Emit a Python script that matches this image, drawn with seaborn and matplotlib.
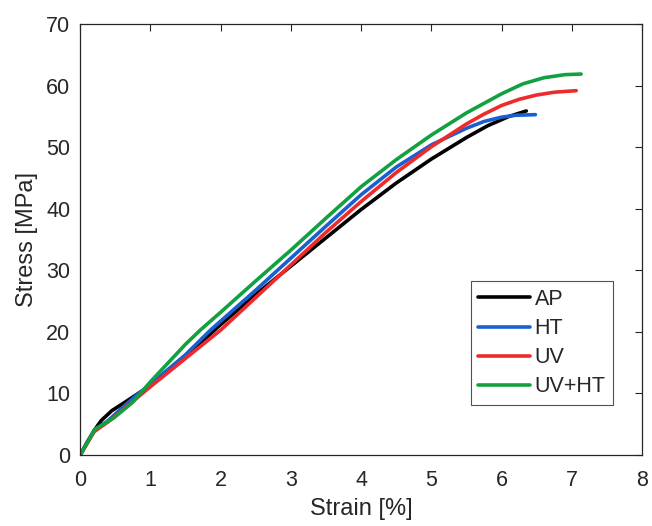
import seaborn as sns
import pandas as pd
import numpy as np
import matplotlib
matplotlib.use("Agg")
import matplotlib.pyplot as plt

# data
ap_strain = [0, 0.1, 0.2, 0.3, 0.45, 0.6, 0.8, 1.0, 1.5, 2.0, 2.5, 3.0, 3.5, 4.0, 4.5, 5.0, 5.5, 5.8, 6.1, 6.35]
ap_stress = [0, 2.1, 4.0, 5.6, 7.2, 8.3, 9.8, 11.3, 16.0, 21.2, 26.1, 30.7, 35.3, 39.9, 44.2, 48.1, 51.6, 53.5, 55.0, 55.9]

ht_strain = [0, 0.2, 0.4, 0.6, 0.8, 1.0, 1.5, 1.855, 2.5, 3.0, 3.5, 4.0, 4.5, 5.0, 5.5, 5.75, 6.0, 6.2, 6.48]
ht_stress = [0, 4.0, 5.6, 7.7, 9.7, 11.5, 16.3, 20.3, 26.8, 32.0, 37.2, 42.3, 46.8, 50.4, 53.1, 54.2, 54.9, 55.2, 55.3]

uv_strain = [0, 0.2, 0.4, 0.6, 0.8, 1.0, 1.5, 2.0, 2.5, 3.0, 3.5, 4.0, 4.5, 5.0, 5.5, 5.75, 6.0, 6.25, 6.5, 6.75, 7.06]
uv_stress = [0, 3.8, 5.4, 7.3, 9.2, 11.1, 15.7, 20.3, 25.6, 30.9, 36.2, 41.2, 45.9, 50.1, 53.8, 55.4, 56.8, 57.8, 58.5, 58.95, 59.2]

uvht_strain = [0, 0.21, 0.475, 0.75, 1.0, 1.5, 1.71, 2.0, 2.5, 3.0, 3.5, 4.0, 4.5, 5.0, 5.5, 6.0, 6.3, 6.6, 6.9, 7.13]
uvht_stress = [0, 4.2, 6.0, 8.6, 11.9, 18.0, 20.3, 23.2, 28.3, 33.3, 38.5, 43.6, 48.0, 52.0, 55.6, 58.7, 60.3, 61.3, 61.8, 61.9]

labels = ["AP", "HT", "UV", "UV+HT"]
colors = ["#000000", "#1a5fd0", "#ee2a2a", "#12a040"]

#long table for seaborn
frames = []
for lab, xs, ys in zip(labels, [ap_strain, ht_strain, uv_strain, uvht_strain],
                       [ap_stress, ht_stress, uv_stress, uvht_stress]):
    frames.append(pd.DataFrame({"strain": xs, "stress": ys, "sample": lab}))
df = pd.concat(frames, ignore_index=True)

sns.set_style("white")
plt.rcParams["font.family"] = ["Liberation Sans", "DejaVu Sans"]

fig = plt.figure(figsize=(6.52, 5.26), dpi=100)
ax = fig.add_axes([0.123, 0.135, 0.862, 0.819])

sns.lineplot(data=df, x="strain", y="stress", hue="sample", hue_order=labels,
             palette=colors, sort=False, estimator=None, linewidth=2.6, ax=ax)

ax.set_xlim(0, 8)
ax.set_ylim(0, 70)
ax.set_xticks(range(0, 9))
ax.set_yticks(range(0, 71, 10))
ax.tick_params(direction="in", length=5, width=0.8, top=True, right=True,
               labelsize=15.5, colors="#262626")
ax.tick_params(axis="x", pad=11)
ax.tick_params(axis="y", pad=7)
for s in ax.spines.values():
    s.set_color("#262626")
    s.set_linewidth(0.9)
ax.set_xlabel("Strain [%]", fontsize=17, color="#262626", labelpad=5)
ax.set_ylabel("Stress [MPa]", fontsize=17, color="#262626", labelpad=6)

leg = ax.legend(loc="lower right", bbox_to_anchor=(0.948, 0.116), fontsize=15.5,
                frameon=True, fancybox=False, handlelength=2.4, handletextpad=0.2,
                borderpad=0.35, labelspacing=0.38, borderaxespad=0)
leg.get_frame().set_edgecolor("#262626")
leg.get_frame().set_linewidth(0.8)
for h in leg.get_lines():
    h.set_linewidth(2.6)

fig.savefig("out.png", dpi=100)
